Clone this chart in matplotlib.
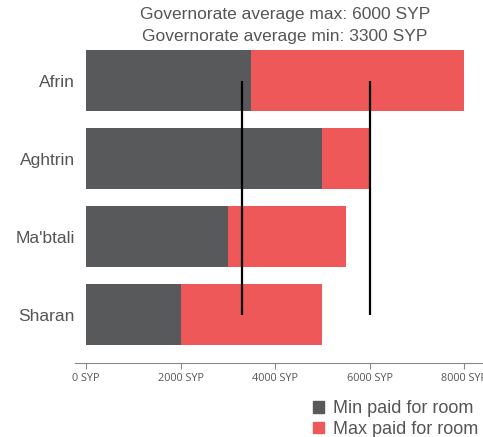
import matplotlib
matplotlib.use("Agg")
import matplotlib.pyplot as plt
from matplotlib.patches import Patch

categories = ["Afrin", "Aghtrin", "Ma'btali", "Sharan"]
min_paid = [3500, 5000, 3000, 2000]
max_paid = [8000, 6000, 5500, 5000]
avg_max = 6000
avg_min = 3300
tick_values = [0, 2000, 4000, 6000, 8000]
tick_labels = ["0 SYP", "2000 SYP", "4000 SYP", "6000 SYP", "8000 SYP"]

dark = "#58595b"
red = "#ee5859"
txt = "#555555"

fig = plt.figure(figsize=(4.83, 4.37), dpi=100)
ax = fig.add_axes([75/483, 1-363/437, 408/483, (363-45)/437])

y = list(range(len(categories)))
ax.barh(y, max_paid, height=0.78, color=red, zorder=1)
ax.barh(y, min_paid, height=0.78, color=dark, zorder=2)
ax.vlines([avg_min, avg_max], 0, len(categories)-1, color="black", linewidth=1.6, zorder=3)

ax.set_xlim(-233, 8402)
ax.set_ylim(3.62, -0.455)
ax.set_yticks(y)
ax.set_yticklabels(categories, fontsize=12.5, color=txt, family="Liberation Sans")
ax.tick_params(axis="y", length=0, pad=0)
ax.set_xticks(tick_values)
ax.set_xticklabels(tick_labels, fontsize=7.8, color=txt, family="Open Sans")
ax.tick_params(axis="x", length=4, color="#888888", pad=3)
for s in ["top", "right", "left"]:
    ax.spines[s].set_visible(False)
ax.spines["bottom"].set_color("#888888")

fig.text(285/483, 1-15/437, f"Governorate average max: {avg_max} SYP", ha="center", va="center",
         fontsize=12.5, color=txt, family="Liberation Sans")
fig.text(285/483, 1-36/437, f"Governorate average min: {avg_min} SYP", ha="center", va="center",
         fontsize=12.5, color=txt, family="Liberation Sans")

handles = [Patch(color=dark, label="Min paid for room"), Patch(color=red, label="Max paid for room")]
fig.legend(handles=handles, loc="lower right", bbox_to_anchor=(1.0 + 4/483, -10/437), frameon=False,
           prop={"family": "Liberation Sans", "size": 13}, labelcolor=txt,
           handlelength=0.6, handleheight=0.6, handletextpad=0.5, labelspacing=0.2,
           borderaxespad=0.1)

fig.savefig("out.png", dpi=100)
